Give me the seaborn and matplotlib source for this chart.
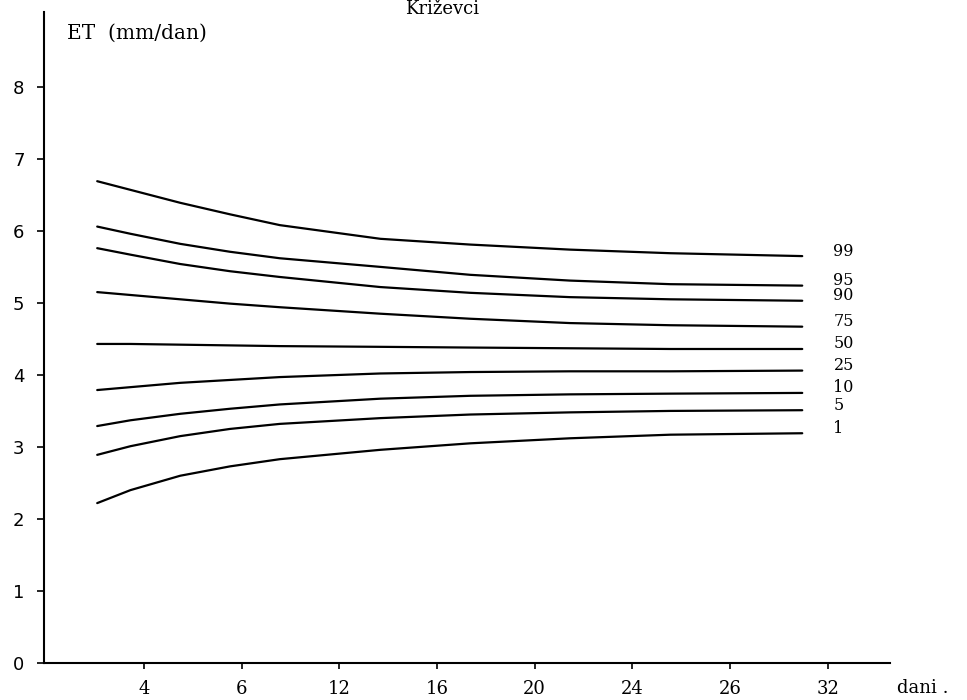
import numpy as np
import pandas as pd
import matplotlib
matplotlib.use("Agg")
import matplotlib.pyplot as plt
import seaborn as sns

# x positions on the evenly spaced tick scale (tick i sits at position i)
X_POS = [-0.48, -0.14, 0.37, 0.88, 1.39, 2.42, 3.34, 4.36, 5.39, 6.74]
X_TICK_LABELS = ["4", "6", "12", "16", "20", "24", "26", "32"]
Y_TICKS = [0, 1, 2, 3, 4, 5, 6, 7, 8]

PERCENTILES = ["99", "95", "90", "75", "50", "25", "10", "5", "1"]
ET_99 = [6.69, 6.57, 6.39, 6.23, 6.08, 5.89, 5.81, 5.74, 5.69, 5.65]
ET_95 = [6.06, 5.96, 5.82, 5.71, 5.62, 5.50, 5.39, 5.31, 5.26, 5.24]
ET_90 = [5.76, 5.67, 5.54, 5.44, 5.36, 5.22, 5.14, 5.08, 5.05, 5.03]
ET_75 = [5.15, 5.11, 5.05, 4.99, 4.94, 4.85, 4.78, 4.72, 4.69, 4.67]
ET_50 = [4.43, 4.43, 4.42, 4.41, 4.40, 4.39, 4.38, 4.37, 4.36, 4.36]
ET_25 = [3.79, 3.83, 3.89, 3.93, 3.97, 4.02, 4.04, 4.05, 4.05, 4.06]
ET_10 = [3.29, 3.37, 3.46, 3.53, 3.59, 3.67, 3.71, 3.73, 3.74, 3.75]
ET_5 = [2.89, 3.01, 3.15, 3.25, 3.32, 3.40, 3.45, 3.48, 3.50, 3.51]
ET_1 = [2.22, 2.40, 2.60, 2.73, 2.83, 2.96, 3.05, 3.12, 3.17, 3.19]
SERIES = [ET_99, ET_95, ET_90, ET_75, ET_50, ET_25, ET_10, ET_5, ET_1]

rows = []
for pct, vals in zip(PERCENTILES, SERIES):
    for x, v in zip(X_POS, vals):
        rows.append({"pct": pct, "pos": x, "et": v})
df = pd.DataFrame(rows)

sns.set_style("ticks")
plt.rcParams["font.family"] = ["DejaVu Serif", "DejaVu Sans"]
plt.rcParams["text.color"] = "black"
plt.rcParams["xtick.color"] = "black"
plt.rcParams["ytick.color"] = "black"

fig = plt.figure(figsize=(9.67, 7), dpi=100)
ax = fig.add_axes([0.0455, 0.0529, 0.875, 0.93])

sns.lineplot(data=df, x="pos", y="et", units="pct", estimator=None,
             color="black", linewidth=1.6, legend=False, ax=ax)

# percentile labels at the right end of each curve
for pct, vals in zip(PERCENTILES, SERIES):
    ax.text(7.06, vals[-1] + 0.07, pct, fontsize=11.5, va="center", ha="left")

ax.set_xlim(-1.025, 7.64)
ax.set_ylim(0, 9.04)
ax.set_xticks(range(len(X_TICK_LABELS)))
ax.set_xticklabels(X_TICK_LABELS, fontsize=13)
ax.set_yticks(Y_TICKS)
ax.set_yticklabels([str(t) for t in Y_TICKS], fontsize=13, family="DejaVu Sans")
ax.tick_params(axis="x", length=4, width=1.2, pad=8)
ax.tick_params(axis="y", length=5, width=1.2, pad=9)
ax.set_xlabel("")
ax.set_ylabel("")
sns.despine(ax=ax)
for s in ["left", "bottom"]:
    ax.spines[s].set_linewidth(1.5)
    ax.spines[s].set_color("black")

fig.text(442 / 967, 1 - 9 / 700, "Križevci", fontsize=13, ha="center", va="center")
fig.text(67 / 967, 1 - 33 / 700, "ET  (mm/dan)", fontsize=14.5, ha="left", va="center")
fig.text(897 / 967, 12 / 700, "dani .", fontsize=13, ha="left", va="center")

fig.savefig("out.png", dpi=100)
